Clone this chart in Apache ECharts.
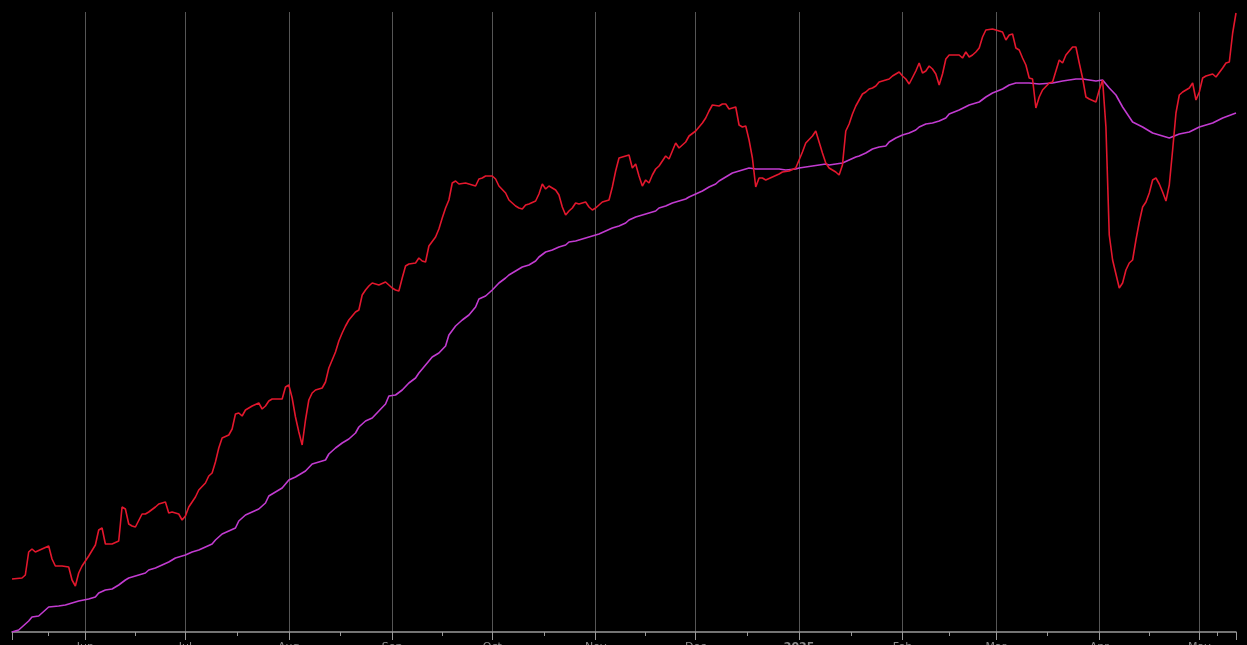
<!DOCTYPE html>
<html>
<head>
<meta charset="utf-8">
<script src="https://cdn.jsdelivr.net/npm/echarts@6/dist/echarts.min.js"></script>
<style>html,body{margin:0;padding:0;background:#000;overflow:hidden;}#chart{width:1247px;height:645px;}</style>
</head>
<body>
<div id="chart"></div>
<script>
const redDates = ['2024-05-10','2024-05-13','2024-05-14','2024-05-15','2024-05-16','2024-05-17','2024-05-19','2024-05-21','2024-05-22','2024-05-23','2024-05-25','2024-05-27','2024-05-28','2024-05-29','2024-05-30','2024-05-31',
'2024-06-02','2024-06-04','2024-06-05','2024-06-06','2024-06-07','2024-06-09','2024-06-11','2024-06-12','2024-06-13','2024-06-14','2024-06-15','2024-06-16','2024-06-18','2024-06-19','2024-06-20','2024-06-22','2024-06-23','2024-06-25','2024-06-26','2024-06-27','2024-06-29','2024-06-30',
'2024-07-01','2024-07-02','2024-07-04','2024-07-05','2024-07-07','2024-07-08','2024-07-09','2024-07-10','2024-07-11','2024-07-12','2024-07-14','2024-07-15','2024-07-16','2024-07-17','2024-07-18','2024-07-19','2024-07-21','2024-07-23','2024-07-24','2024-07-25','2024-07-26','2024-07-27','2024-07-29','2024-07-30','2024-07-31',
'2024-08-01','2024-08-02','2024-08-03','2024-08-04','2024-08-05','2024-08-06','2024-08-07','2024-08-08','2024-08-09','2024-08-11','2024-08-12','2024-08-13','2024-08-15','2024-08-16','2024-08-17','2024-08-18','2024-08-19','2024-08-21','2024-08-22','2024-08-23','2024-08-24','2024-08-25','2024-08-26','2024-08-27','2024-08-28','2024-08-30','2024-08-31',
'2024-09-01','2024-09-02','2024-09-03','2024-09-04','2024-09-05','2024-09-06','2024-09-08','2024-09-09','2024-09-10','2024-09-11','2024-09-12','2024-09-14','2024-09-15','2024-09-16','2024-09-17','2024-09-18','2024-09-19','2024-09-20','2024-09-21','2024-09-23','2024-09-24','2024-09-26','2024-09-27','2024-09-28','2024-09-29',
'2024-10-01','2024-10-02','2024-10-03','2024-10-05','2024-10-06','2024-10-08','2024-10-09','2024-10-10','2024-10-11','2024-10-12','2024-10-14','2024-10-15','2024-10-16','2024-10-17','2024-10-18','2024-10-20','2024-10-21','2024-10-22','2024-10-23','2024-10-24','2024-10-25','2024-10-26','2024-10-27','2024-10-29','2024-10-30','2024-10-31',
'2024-11-01','2024-11-02','2024-11-03','2024-11-04','2024-11-05','2024-11-06','2024-11-07','2024-11-08','2024-11-10','2024-11-11','2024-11-12','2024-11-13','2024-11-14','2024-11-15','2024-11-16','2024-11-17','2024-11-18','2024-11-19','2024-11-20','2024-11-22','2024-11-23','2024-11-24','2024-11-25','2024-11-26','2024-11-28','2024-11-29',
'2024-12-01','2024-12-02','2024-12-03','2024-12-04','2024-12-05','2024-12-06','2024-12-08','2024-12-09','2024-12-10','2024-12-11','2024-12-13','2024-12-14','2024-12-15','2024-12-16','2024-12-17','2024-12-18','2024-12-19','2024-12-20','2024-12-21','2024-12-22','2024-12-24','2024-12-26','2024-12-27','2024-12-29','2024-12-31',
'2025-01-01','2025-01-02','2025-01-03','2025-01-05','2025-01-06','2025-01-07','2025-01-08','2025-01-09','2025-01-10','2025-01-12','2025-01-13','2025-01-14','2025-01-15','2025-01-16','2025-01-17','2025-01-18','2025-01-19','2025-01-20','2025-01-21','2025-01-22','2025-01-23','2025-01-24','2025-01-25','2025-01-27','2025-01-28','2025-01-29','2025-01-30','2025-01-31',
'2025-02-01','2025-02-02','2025-02-03','2025-02-05','2025-02-06','2025-02-07','2025-02-08','2025-02-09','2025-02-10','2025-02-11','2025-02-12','2025-02-13','2025-02-14','2025-02-15','2025-02-16','2025-02-17','2025-02-18','2025-02-19','2025-02-20','2025-02-21','2025-02-22','2025-02-23','2025-02-24','2025-02-25','2025-02-26','2025-02-28',
'2025-03-01','2025-03-03','2025-03-04','2025-03-05','2025-03-06','2025-03-07','2025-03-08','2025-03-09','2025-03-10','2025-03-11','2025-03-12','2025-03-13','2025-03-14','2025-03-15','2025-03-17','2025-03-18','2025-03-20','2025-03-21','2025-03-22','2025-03-24','2025-03-25','2025-03-26','2025-03-27','2025-03-28','2025-03-29','2025-03-31',
'2025-04-01','2025-04-02','2025-04-03','2025-04-04','2025-04-05','2025-04-07','2025-04-08','2025-04-09','2025-04-10','2025-04-11','2025-04-12','2025-04-13','2025-04-14','2025-04-15','2025-04-16','2025-04-17','2025-04-18','2025-04-19','2025-04-20','2025-04-21','2025-04-22','2025-04-23','2025-04-24','2025-04-25','2025-04-26','2025-04-28','2025-04-29','2025-04-30',
'2025-05-01','2025-05-02','2025-05-03','2025-05-05','2025-05-06','2025-05-08','2025-05-09','2025-05-10','2025-05-11','2025-05-12'];
const redValues = [53,54,57,80,83,80,83,86,73,66,66,65,52,46,59,66,
76,87,102,104,88,88,91,125,123,108,106,105,118,118,120,125,128,130,119,120,118,112,
116,125,135,142,149,156,159,170,184,194,197,203,218,219,216,222,226,229,223,226,231,233,233,233,245,
247,234,215,200,187,212,232,239,242,244,250,264,280,291,299,306,312,320,322,337,342,346,349,348,347,350,347,
344,342,341,354,366,368,369,374,371,370,386,395,403,414,424,432,449,451,448,449,448,446,453,454,456,
456,453,446,439,432,426,424,423,427,428,431,438,448,443,446,442,437,425,417,421,424,429,428,430,425,422,
424,427,430,431,432,445,461,474,476,477,464,468,456,446,452,449,457,463,466,476,473,481,489,484,490,496,
501,505,509,514,521,527,526,528,528,523,525,507,505,506,492,474,445,454,454,452,455,458,460,461,464,
472,480,489,496,501,490,479,469,464,460,457,467,501,508,518,526,532,538,540,543,544,546,550,552,553,556,558,560,
556,553,548,561,569,559,561,566,563,558,547,558,573,577,577,577,577,574,580,575,577,580,584,595,602,603,
602,600,592,597,598,584,582,574,567,554,553,524,535,542,549,550,572,569,577,585,585,569,554,535,533,530,
542,552,505,397,372,344,349,362,369,372,392,410,425,430,439,452,454,448,440,431,447,482,519,537,540,544,549,532,
540,554,556,558,555,564,569,570,599,619];

const maDates = ['2024-05-10','2024-05-12','2024-05-13','2024-05-15','2024-05-16','2024-05-18','2024-05-19','2024-05-21','2024-05-24','2024-05-26','2024-05-28','2024-05-30',
'2024-06-02','2024-06-04','2024-06-05','2024-06-07','2024-06-09','2024-06-11','2024-06-13','2024-06-14','2024-06-17','2024-06-19','2024-06-20','2024-06-22','2024-06-24','2024-06-26','2024-06-28','2024-06-29',
'2024-07-01','2024-07-03','2024-07-05','2024-07-07','2024-07-09','2024-07-10','2024-07-12','2024-07-14','2024-07-16','2024-07-17','2024-07-19','2024-07-21','2024-07-23','2024-07-25','2024-07-26','2024-07-28','2024-07-30',
'2024-08-01','2024-08-03','2024-08-04','2024-08-06','2024-08-08','2024-08-10','2024-08-12','2024-08-13','2024-08-15','2024-08-17','2024-08-19','2024-08-21','2024-08-22','2024-08-24','2024-08-26','2024-08-28','2024-08-30','2024-08-31',
'2024-09-02','2024-09-04','2024-09-06','2024-09-08','2024-09-09','2024-09-11','2024-09-13','2024-09-15','2024-09-17','2024-09-18','2024-09-20','2024-09-22','2024-09-24','2024-09-26','2024-09-27','2024-09-29',
'2024-10-01','2024-10-03','2024-10-05','2024-10-06','2024-10-08','2024-10-10','2024-10-12','2024-10-14','2024-10-15','2024-10-17','2024-10-19','2024-10-21','2024-10-23','2024-10-24','2024-10-26','2024-10-28','2024-10-30',
'2024-11-01','2024-11-02','2024-11-04','2024-11-06','2024-11-08','2024-11-10','2024-11-11','2024-11-13','2024-11-15','2024-11-17','2024-11-19','2024-11-20','2024-11-22','2024-11-24','2024-11-26','2024-11-28','2024-11-29',
'2024-12-01','2024-12-03','2024-12-05','2024-12-07','2024-12-08','2024-12-10','2024-12-12','2024-12-14','2024-12-16','2024-12-17','2024-12-19','2024-12-21','2024-12-23','2024-12-26','2024-12-28','2024-12-31',
'2025-01-01','2025-01-03','2025-01-05','2025-01-07','2025-01-09','2025-01-10','2025-01-12','2025-01-14','2025-01-16','2025-01-18','2025-01-19','2025-01-21','2025-01-23','2025-01-25','2025-01-27','2025-01-28','2025-01-30',
'2025-02-01','2025-02-03','2025-02-05','2025-02-06','2025-02-08','2025-02-10','2025-02-12','2025-02-14','2025-02-15','2025-02-18','2025-02-21','2025-02-24','2025-02-26','2025-02-28',
'2025-03-03','2025-03-05','2025-03-07','2025-03-11','2025-03-14','2025-03-18','2025-03-21','2025-03-25','2025-03-27','2025-03-31',
'2025-04-02','2025-04-04','2025-04-06','2025-04-08','2025-04-11','2025-04-14','2025-04-17','2025-04-20','2025-04-22','2025-04-25','2025-04-28',
'2025-05-01','2025-05-05','2025-05-08','2025-05-12'];
const maValues = [0,2,5,11,15,16,19,25,26,27,29,31,
33,35,39,42,43,47,52,54,57,59,62,64,67,70,74,75,
77,80,82,85,88,92,98,101,104,111,117,120,123,129,136,140,144,
152,155,157,161,168,170,172,178,184,189,193,199,205,211,214,221,228,236,
237,242,249,254,259,267,275,279,286,297,306,312,317,325,333,336,
342,349,354,357,361,365,367,371,375,380,382,385,387,390,391,393,395,
397,398,401,404,406,409,412,415,417,419,421,424,426,429,431,433,435,
438,441,445,448,451,455,459,461,463,464,463,463,463,463,462,463,
464,465,466,467,468,467,468,469,472,475,476,479,483,485,486,490,494,
497,499,502,505,508,509,511,514,518,522,527,530,535,539,
543,547,549,549,548,549,551,553,553,551,
552,544,537,525,510,505,499,496,494,498,500,
505,509,514,519];

const xMin = '2024-05-10';
const xMax = '2025-05-12';

const redData = redDates.map((d, i) => [d, redValues[i]]);
const maData = maDates.map((d, i) => [d, maValues[i]]);

const chart = echarts.init(document.getElementById('chart'));
chart.setOption({
  backgroundColor: '#000000',
  animation: false,
  grid: { left: 12, right: 11, top: 12, bottom: 13, containLabel: false, outerBoundsMode: 'none' },
  xAxis: {
    type: 'time',
    min: xMin,
    max: xMax,
    splitNumber: 12,
    minInterval: 28 * 86400000,
    maxInterval: 31 * 86400000,
    axisLine: { show: true, lineStyle: { color: '#9a9a9a', width: 1.5 } },
    axisTick: { show: true, length: 8, lineStyle: { color: '#9a9a9a' } },
    minorTick: { show: true, splitNumber: 2, length: 4, lineStyle: { color: '#9a9a9a' } },
    splitLine: { show: true, showMinLine: false, showMaxLine: false, lineStyle: { color: '#555555', width: 1 } },
    axisLabel: { color: '#8a8a8a', fontSize: 11, margin: 10, fontFamily: 'DejaVu Sans', showMinLabel: false, showMaxLabel: false }
  },
  yAxis: {
    type: 'value',
    min: 0,
    max: 620,
    show: false,
    splitLine: { show: false }
  },
  series: [
    {
      name: 'MA',
      type: 'line',
      data: maData,
      showSymbol: false,
      lineStyle: { color: '#c23bd0', width: 1.6 },
      itemStyle: { color: '#c23bd0' }
    },
    {
      name: 'Price',
      type: 'line',
      data: redData,
      showSymbol: false,
      lineStyle: { color: '#e3172d', width: 1.6 },
      itemStyle: { color: '#e3172d' }
    }
  ]
});
</script>
</body>
</html>
